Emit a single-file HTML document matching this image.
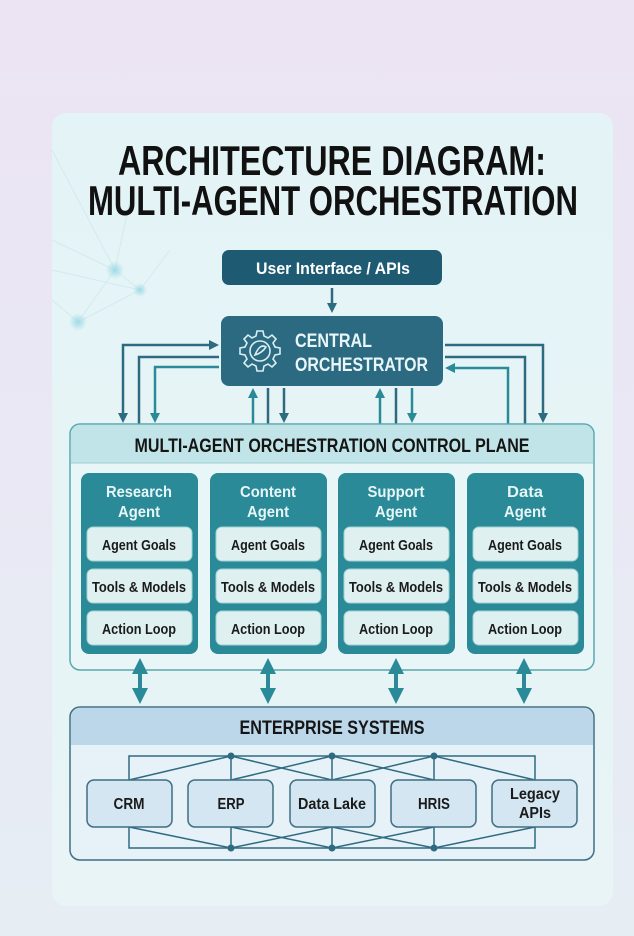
<!DOCTYPE html>
<html><head><meta charset="utf-8"><style>
html,body{margin:0;padding:0;width:634px;height:936px;overflow:hidden;background:linear-gradient(180deg,#ece4f3 0%,#e9e8f4 50%,#e6eef4 100%);}
svg{display:block}
text{font-family:"Liberation Sans Narrow","Liberation Sans",sans-serif;font-weight:bold;text-anchor:middle}
</style></head><body>
<svg width="634" height="936" viewBox="0 0 634 936" xmlns="http://www.w3.org/2000/svg">
<defs>
<linearGradient id="card" x1="0" y1="0" x2="0" y2="1"><stop offset="0" stop-color="#e4f4f6"/><stop offset="1" stop-color="#e8f4f6"/></linearGradient>
<radialGradient id="glow"><stop offset="0" stop-color="#9fdbe6"/><stop offset="1" stop-color="#9fdbe6" stop-opacity="0"/></radialGradient>
<marker id="ad" viewBox="0 0 10 10" refX="5" refY="5" markerWidth="4" markerHeight="4" orient="auto-start-reverse"><path d="M0,0L10,5L0,10z" fill="#2e6b80"/></marker>
<marker id="at" viewBox="0 0 10 10" refX="5" refY="5" markerWidth="4" markerHeight="4" orient="auto-start-reverse"><path d="M0,0L10,5L0,10z" fill="#2a8a98"/></marker>
</defs>
<rect x="52" y="113" width="561" height="793" rx="14" fill="url(#card)"/>
<g stroke="#c6e4ea" stroke-width="1" opacity="0.6">
<line x1="52" y1="150" x2="115" y2="270"/><line x1="115" y1="270" x2="140" y2="290"/><line x1="115" y1="270" x2="78" y2="322"/>
<line x1="52" y1="240" x2="115" y2="270"/><line x1="78" y1="322" x2="140" y2="290"/><line x1="52" y1="300" x2="78" y2="322"/>
<line x1="140" y1="290" x2="170" y2="250"/><line x1="115" y1="270" x2="130" y2="200"/><line x1="52" y1="270" x2="140" y2="290"/>
</g>
<circle cx="115" cy="270" r="9" fill="url(#glow)"/><circle cx="140" cy="290" r="7" fill="url(#glow)"/><circle cx="78" cy="322" r="9" fill="url(#glow)"/>
<text x="332" y="175" font-size="42" fill="#111" textLength="428" lengthAdjust="spacingAndGlyphs">ARCHITECTURE DIAGRAM:</text>
<text x="333" y="215" font-size="42" fill="#111" textLength="490" lengthAdjust="spacingAndGlyphs">MULTI-AGENT ORCHESTRATION</text>
<rect x="222" y="250" width="220" height="35" rx="7" fill="#1f5a73"/>
<text x="333" y="274" font-size="17" fill="#fff" textLength="154" lengthAdjust="spacingAndGlyphs">User Interface / APIs</text>
<line x1="332" y1="288" x2="332" y2="308" stroke="#2e6b80" stroke-width="2.5" marker-end="url(#ad)"/>
<rect x="221" y="316" width="222" height="70" rx="8" fill="#2b6a80"/>
<g transform="translate(260,351)" fill="none" stroke="#d8eef2" stroke-width="1.6">
<path d="M-3,-20h6l1,5 4,2 4,-3 4,4 -3,4 2,4 5,1v6l-5,1 -2,4 3,4 -4,4 -4,-3 -4,2 -1,5h-6l-1,-5 -4,-2 -4,3 -4,-4 3,-4 -2,-4 -5,-1v-6l5,-1 2,-4 -3,-4 4,-4 4,3 4,-2z"/>
<circle r="10"/><path d="M-5,4 Q0,-8 6,-4 Q2,2 -5,4z"/>
</g>
<text x="295" y="347" font-size="19" fill="#e8f6f8" style="text-anchor:start" textLength="77" lengthAdjust="spacingAndGlyphs">CENTRAL</text>
<text x="295" y="371" font-size="19" fill="#e8f6f8" style="text-anchor:start" textLength="133" lengthAdjust="spacingAndGlyphs">ORCHESTRATOR</text>
<g fill="none" stroke-width="2.5">
<path d="M123,418V345H214" stroke="#2e6b80" marker-start="url(#ad)" marker-end="url(#ad)"/>
<path d="M139,424V357H219" stroke="#2e6b80"/>
<path d="M155,418V367H219" stroke="#2a8a98" marker-start="url(#at)"/>
<path d="M543,418V345H445" stroke="#2e6b80" marker-start="url(#ad)"/>
<path d="M525,424V357H445" stroke="#2e6b80"/>
<path d="M508,424V368H450" stroke="#2a8a98" marker-end="url(#at)"/>
<line x1="253" y1="424" x2="253" y2="393" stroke="#2a8a98" marker-end="url(#at)"/>
<line x1="268" y1="424" x2="268" y2="388" stroke="#2e6b80"/>
<line x1="284" y1="388" x2="284" y2="418" stroke="#2e6b80" marker-end="url(#ad)"/>
<line x1="380" y1="424" x2="380" y2="393" stroke="#2a8a98" marker-end="url(#at)"/>
<line x1="396" y1="424" x2="396" y2="388" stroke="#2e6b80"/>
<line x1="412" y1="388" x2="412" y2="418" stroke="#2a8a98" marker-end="url(#at)"/>
</g>
<rect x="70" y="424" width="524" height="246" rx="10" fill="#e9f6f7" stroke="#5aa8b0" stroke-width="1.5"/>
<path d="M71,463V434a9,9 0 0 1 9,-9H584a9,9 0 0 1 9,9V463z" fill="#c0e4e7"/>
<line x1="71" y1="463" x2="593" y2="463" stroke="#9ccfd4"/>
<text x="332" y="452" font-size="19" fill="#151515" textLength="395" lengthAdjust="spacingAndGlyphs">MULTI-AGENT ORCHESTRATION CONTROL PLANE</text>
<g font-size="16">
<g transform="translate(81,0)"><rect y="473" width="117" height="181" rx="8" fill="#2a8a98"/><text x="58" y="497" fill="#e6f6f8" textLength="66" lengthAdjust="spacingAndGlyphs">Research</text><text x="58" y="517" fill="#e6f6f8" textLength="42" lengthAdjust="spacingAndGlyphs">Agent</text></g>
<g transform="translate(210,0)"><rect y="473" width="117" height="181" rx="8" fill="#2a8a98"/><text x="58" y="497" fill="#e6f6f8" textLength="56" lengthAdjust="spacingAndGlyphs">Content</text><text x="58" y="517" fill="#e6f6f8" textLength="42" lengthAdjust="spacingAndGlyphs">Agent</text></g>
<g transform="translate(338,0)"><rect y="473" width="117" height="181" rx="8" fill="#2a8a98"/><text x="58" y="497" fill="#e6f6f8" textLength="57" lengthAdjust="spacingAndGlyphs">Support</text><text x="58" y="517" fill="#e6f6f8" textLength="42" lengthAdjust="spacingAndGlyphs">Agent</text></g>
<g transform="translate(467,0)"><rect y="473" width="117" height="181" rx="8" fill="#2a8a98"/><text x="58" y="497" fill="#e6f6f8" textLength="36" lengthAdjust="spacingAndGlyphs">Data</text><text x="58" y="517" fill="#e6f6f8" textLength="42" lengthAdjust="spacingAndGlyphs">Agent</text></g>
</g>
<g font-size="15" fill="#1a1a1a">
<g transform="translate(87,0)">
<rect y="527" width="105" height="34" rx="6" fill="#dff0f1" stroke="#9fd2d7"/><text x="52" y="550" textLength="74" lengthAdjust="spacingAndGlyphs">Agent Goals</text>
<rect y="569" width="105" height="34" rx="6" fill="#dff0f1" stroke="#9fd2d7"/><text x="52" y="592" textLength="94" lengthAdjust="spacingAndGlyphs">Tools &amp; Models</text>
<rect y="611" width="105" height="34" rx="6" fill="#dff0f1" stroke="#9fd2d7"/><text x="52" y="634" textLength="74" lengthAdjust="spacingAndGlyphs">Action Loop</text></g>
<g transform="translate(216,0)">
<rect y="527" width="105" height="34" rx="6" fill="#dff0f1" stroke="#9fd2d7"/><text x="52" y="550" textLength="74" lengthAdjust="spacingAndGlyphs">Agent Goals</text>
<rect y="569" width="105" height="34" rx="6" fill="#dff0f1" stroke="#9fd2d7"/><text x="52" y="592" textLength="94" lengthAdjust="spacingAndGlyphs">Tools &amp; Models</text>
<rect y="611" width="105" height="34" rx="6" fill="#dff0f1" stroke="#9fd2d7"/><text x="52" y="634" textLength="74" lengthAdjust="spacingAndGlyphs">Action Loop</text></g>
<g transform="translate(344,0)">
<rect y="527" width="105" height="34" rx="6" fill="#dff0f1" stroke="#9fd2d7"/><text x="52" y="550" textLength="74" lengthAdjust="spacingAndGlyphs">Agent Goals</text>
<rect y="569" width="105" height="34" rx="6" fill="#dff0f1" stroke="#9fd2d7"/><text x="52" y="592" textLength="94" lengthAdjust="spacingAndGlyphs">Tools &amp; Models</text>
<rect y="611" width="105" height="34" rx="6" fill="#dff0f1" stroke="#9fd2d7"/><text x="52" y="634" textLength="74" lengthAdjust="spacingAndGlyphs">Action Loop</text></g>
<g transform="translate(473,0)">
<rect y="527" width="105" height="34" rx="6" fill="#dff0f1" stroke="#9fd2d7"/><text x="52" y="550" textLength="74" lengthAdjust="spacingAndGlyphs">Agent Goals</text>
<rect y="569" width="105" height="34" rx="6" fill="#dff0f1" stroke="#9fd2d7"/><text x="52" y="592" textLength="94" lengthAdjust="spacingAndGlyphs">Tools &amp; Models</text>
<rect y="611" width="105" height="34" rx="6" fill="#dff0f1" stroke="#9fd2d7"/><text x="52" y="634" textLength="74" lengthAdjust="spacingAndGlyphs">Action Loop</text></g>
</g>
<g stroke="#2a8a98" stroke-width="4">
<line x1="140" y1="666" x2="140" y2="696" marker-start="url(#at)" marker-end="url(#at)"/>
<line x1="268" y1="666" x2="268" y2="696" marker-start="url(#at)" marker-end="url(#at)"/>
<line x1="396" y1="666" x2="396" y2="696" marker-start="url(#at)" marker-end="url(#at)"/>
<line x1="524" y1="666" x2="524" y2="696" marker-start="url(#at)" marker-end="url(#at)"/>
</g>
<rect x="70" y="707" width="524" height="153" rx="10" fill="#e6f1f8" stroke="#3e6f82" stroke-width="1.5"/>
<path d="M71,745V717a9,9 0 0 1 9,-9H584a9,9 0 0 1 9,9V745z" fill="#bcd6ea"/>
<text x="332" y="734" font-size="19" fill="#151515" textLength="185" lengthAdjust="spacingAndGlyphs">ENTERPRISE SYSTEMS</text>
<g fill="none" stroke="#2e6b80" stroke-width="1.5">
<rect x="129" y="756" width="406" height="92"/>
<line x1="231" y1="756" x2="231" y2="848"/><line x1="332" y1="756" x2="332" y2="848"/><line x1="434" y1="756" x2="434" y2="848"/>
<path d="M129,780L231,756L332,780L434,756L535,780"/>
<path d="M231,780L332,756L434,780"/>
<path d="M129,827L231,848L332,827L434,848L535,827"/>
<path d="M231,827L332,848L434,827"/>
</g>
<g fill="#2e6b80"><circle cx="231" cy="756" r="3.5"/><circle cx="332" cy="756" r="3.5"/><circle cx="434" cy="756" r="3.5"/><circle cx="231" cy="848" r="3.5"/><circle cx="332" cy="848" r="3.5"/><circle cx="434" cy="848" r="3.5"/></g>
<g fill="#d3e6f2" stroke="#3e6f82" stroke-width="1.5">
<rect x="87" y="780" width="85" height="47" rx="7"/><rect x="188" y="780" width="85" height="47" rx="7"/><rect x="290" y="780" width="85" height="47" rx="7"/><rect x="391" y="780" width="85" height="47" rx="7"/><rect x="492" y="780" width="85" height="47" rx="7"/>
</g>
<g font-size="16" fill="#1a1a1a">
<text x="129" y="809" textLength="31" lengthAdjust="spacingAndGlyphs">CRM</text><text x="231" y="809" textLength="27" lengthAdjust="spacingAndGlyphs">ERP</text><text x="332" y="809" textLength="68" lengthAdjust="spacingAndGlyphs">Data Lake</text><text x="434" y="809" textLength="32" lengthAdjust="spacingAndGlyphs">HRIS</text>
<text x="535" y="799" textLength="50" lengthAdjust="spacingAndGlyphs">Legacy</text><text x="535" y="818" textLength="32" lengthAdjust="spacingAndGlyphs">APIs</text>
</g>
</svg>
</body></html>
